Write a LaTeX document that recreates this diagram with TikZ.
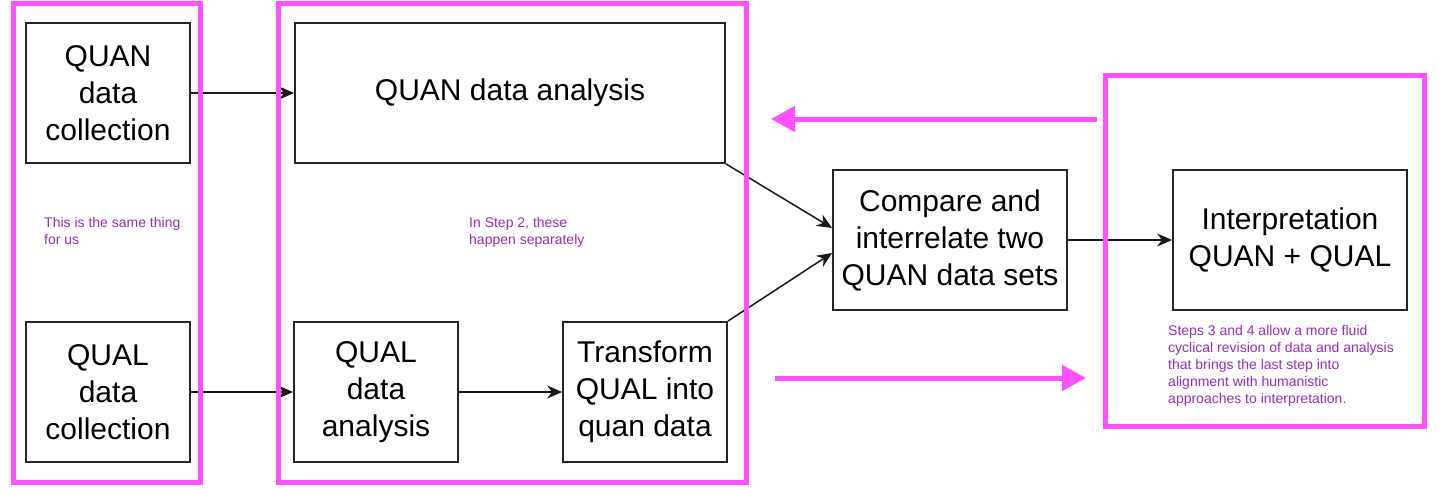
\documentclass[tikz,border=0pt]{standalone}
\usepackage{fontspec}
\setmainfont{Liberation Sans}
\usetikzlibrary{arrows.meta}
\definecolor{mag}{RGB}{255,80,255}
\definecolor{note}{RGB}{150,45,190}
\tikzset{
  blackbox/.style={draw=black!85, line width=1.8pt, fill=white, align=center, inner sep=0pt,
    font=\fontsize{30}{37}\selectfont, text=black},
  magbox/.style={draw=mag, line width=5pt, inner sep=0pt},
  link/.style={draw=black!90, line width=1.5pt, -{Stealth[length=15pt,width=13pt]}},
  bigarrow/.style={draw=mag, line width=5pt, -{Triangle[length=24pt,width=25pt]}},
  notetext/.style={text=note, align=left, inner sep=0pt, anchor=north west,
    font=\fontsize{14}{17}\selectfont}
}
\begin{document}
\begin{tikzpicture}[x=1pt,y=-1pt]
\useasboundingbox (0,0) rectangle (1442,496);
% boxes
\node[blackbox, minimum width=164pt, minimum height=140pt] (quancoll) at (108,93) {QUAN\\data\\collection};
\node[blackbox, minimum width=164pt, minimum height=140pt] (qualcoll) at (108,392) {QUAL\\data\\collection};
\node[blackbox, minimum width=430pt, minimum height=140pt] (quanana) at (510,93) {QUAN data analysis};
\node[blackbox, minimum width=164pt, minimum height=140pt] (qualana) at (376,392) {QUAL\\data\\analysis};
\node[blackbox, minimum width=164pt, minimum height=140pt] (transform) at (645,392) {Transform\\QUAL into\\quan data};
\node[blackbox, minimum width=234pt, minimum height=140pt] (compare) at (950,240) {Compare and\\interrelate two\\QUAN data sets};
\node[blackbox, minimum width=234pt, minimum height=140pt] (interp) at (1290,240) {Interpretation\\QUAN + QUAL};
% connectors
\draw[link] (quancoll.east) -- (quanana.west);
\draw[link] (qualcoll.east) -- (qualana.west);
\draw[link] (qualana.east) -- (transform.west);
\draw[link] (quanana.south east) -- ([yshift=12pt]compare.west);
\draw[link] (transform.north east) -- ([yshift=-13pt]compare.west);
\draw[link] (compare.east) -- (interp.west);
% magenta groups
\node[magbox, minimum width=187pt, minimum height=479pt] (group1) at (106.5,242.5) {};
\node[magbox, minimum width=468pt, minimum height=479pt] (group2) at (512,242.5) {};
\node[magbox, minimum width=319pt, minimum height=351pt] (group3) at (1264.5,250.5) {};
% magenta arrows
\coordinate (ta) at (1097,119);
\coordinate (tb) at (771,119);
\coordinate (ba) at (775,378);
\coordinate (bb) at (1086,378);
\draw[bigarrow] (ta) -- (tb);
\draw[bigarrow] (ba) -- (bb);
% notes
\node[notetext] (note1) at (44,217) {This is the same thing\\for us};
\node[notetext] (note2) at (469,217) {In Step 2, these\\happen separately};
\node[notetext] (note3) at (1168,325) {Steps 3 and 4 allow a more fluid\\cyclical revision of data and analysis\\that brings the last step into\\alignment with humanistic\\approaches to interpretation.};
\end{tikzpicture}
\end{document}
